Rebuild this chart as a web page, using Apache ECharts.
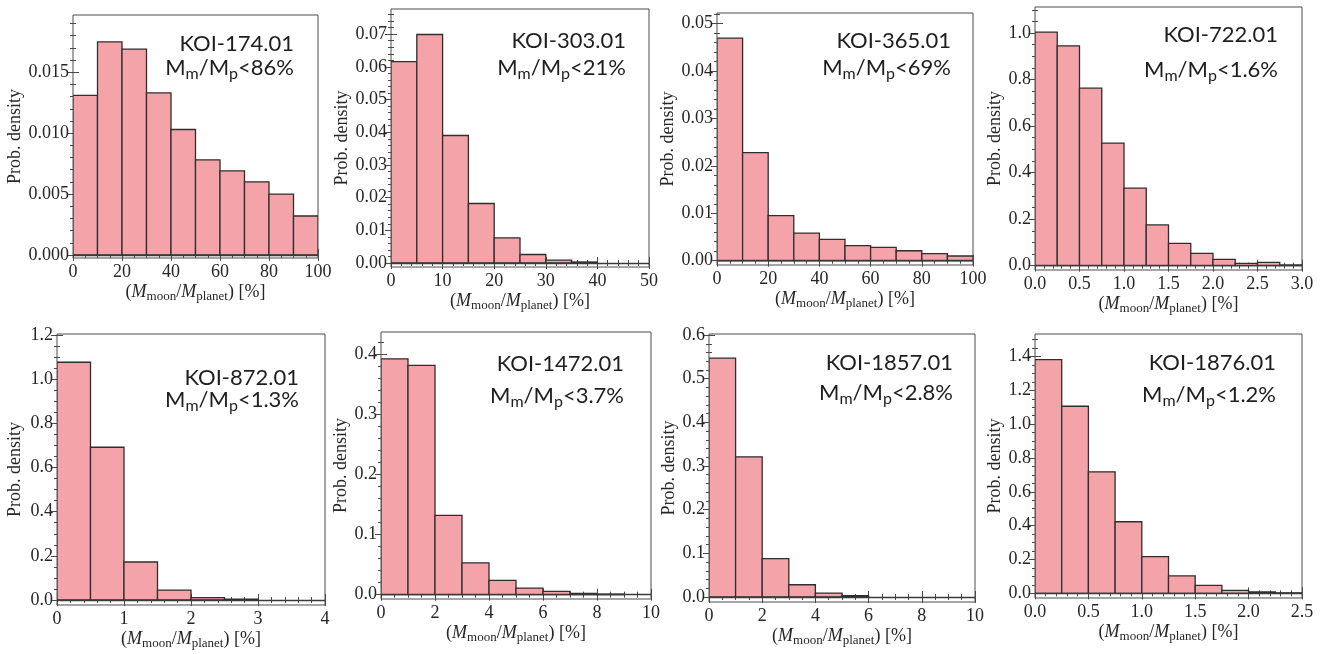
<!DOCTYPE html>
<html><head><meta charset="utf-8">
<script src="https://cdn.jsdelivr.net/npm/echarts@6/dist/echarts.min.js"></script>
<style>html,body{margin:0;padding:0;background:#fff}#c{width:1330px;height:654px}</style>
</head><body><div id="c"></div>
<script>
// ---------------- DATA ----------------
const names = ['KOI-174.01','KOI-303.01','KOI-365.01','KOI-722.01','KOI-872.01','KOI-1472.01','KOI-1857.01','KOI-1876.01'];
const limits = ['86%','21%','69%','1.6%','1.3%','3.7%','2.8%','1.2%'];
const binWidths = [10, 5, 10, 0.25, 0.5, 1, 1, 0.25];

const dens174  = [0.0131, 0.0175, 0.0169, 0.0133, 0.0103, 0.0078, 0.0069, 0.0060, 0.0050, 0.0032];
const dens303  = [0.0616, 0.0699, 0.0390, 0.0182, 0.0077, 0.0026, 0.0009, 0.0003];
const dens365  = [0.0469, 0.0228, 0.0095, 0.0058, 0.0045, 0.0032, 0.0028, 0.0021, 0.0015, 0.0010];
const dens722  = [1.004, 0.945, 0.763, 0.527, 0.333, 0.175, 0.096, 0.053, 0.027, 0.010, 0.014, 0.003];
const dens872  = [1.077, 0.692, 0.172, 0.045, 0.011, 0.004];
const dens1472 = [0.393, 0.382, 0.132, 0.053, 0.024, 0.011, 0.0055, 0.0022, 0.001];
const dens1857 = [0.547, 0.321, 0.088, 0.028, 0.009, 0.003];
const dens1876 = [1.382, 1.106, 0.718, 0.423, 0.217, 0.103, 0.047, 0.018, 0.008, 0.003];

const xTicks174  = ['0','20','40','60','80','100'];
const xTicks303  = ['0','10','20','30','40','50'];
const xTicks365  = ['0','20','40','60','80','100'];
const xTicks722  = ['0.0','0.5','1.0','1.5','2.0','2.5','3.0'];
const xTicks872  = ['0','1','2','3','4'];
const xTicks1472 = ['0','2','4','6','8','10'];
const xTicks1857 = ['0','2','4','6','8','10'];
const xTicks1876 = ['0.0','0.5','1.0','1.5','2.0','2.5'];

const yTicks174  = ['0.000','0.005','0.010','0.015'];
const yTicks303  = ['0.00','0.01','0.02','0.03','0.04','0.05','0.06','0.07'];
const yTicks365  = ['0.00','0.01','0.02','0.03','0.04','0.05'];
const yTicks722  = ['0.0','0.2','0.4','0.6','0.8','1.0'];
const yTicks872  = ['0.0','0.2','0.4','0.6','0.8','1.0','1.2'];
const yTicks1472 = ['0.0','0.1','0.2','0.3','0.4'];
const yTicks1857 = ['0.0','0.1','0.2','0.3','0.4','0.5','0.6'];
const yTicks1876 = ['0.0','0.2','0.4','0.6','0.8','1.0','1.2','1.4'];

const yAxisTitle = 'Prob. density';
const xAxisTitle = '({i|M}{s|moon}/{i|M}{s|planet}) [%]';

// ---------------- LAYOUT / STYLE ----------------
const panels = [
  {d:dens174,  xt:xTicks174,  yt:yTicks174,  xr:[0,100], yr:[-0.00025,0.0197], xs:4, ys:5, g:{left:73,  top:15,  width:245, height:243}, yGap:47, lab:{r:294,  t:36,  dy:24}},
  {d:dens303,  xt:xTicks303,  yt:yTicks303,  xr:[0,50],  yr:[-0.00123,0.0777], xs:5, ys:5, g:{left:391, top:9,   width:258, height:258}, yGap:40, lab:{r:626,  t:33,  dy:27}},
  {d:dens365,  xt:xTicks365,  yt:yTicks365,  xr:[0,100], yr:[-0.0009,0.0522],  xs:4, ys:5, g:{left:717, top:13,  width:256, height:252}, yGap:38, lab:{r:951,  t:33,  dy:27}},
  {d:dens722,  xt:xTicks722,  yt:yTicks722,  xr:[0,3],   yr:[-0.0187,1.112],   xs:5, ys:4, g:{left:1035,top:7,   width:267, height:263}, yGap:28, lab:{r:1278, t:27,  dy:35}},
  {d:dens872,  xt:xTicks872,  yt:yTicks872,  xr:[0,4],   yr:[-0.0227,1.205],   xs:5, ys:4, g:{left:57,  top:334, width:268, height:271}, yGap:33, lab:{r:299,  t:370, dy:22}},
  {d:dens1472, xt:xTicks1472, yt:yTicks1472, xr:[0,10],  yr:[-0.0072,0.4377],  xs:4, ys:5, g:{left:381, top:332, width:270, height:267}, yGap:30, lab:{r:624,  t:356, dy:32}},
  {d:dens1857, xt:xTicks1857, yt:yTicks1857, xr:[0,10],  yr:[-0.0115,0.6024],  xs:4, ys:5, g:{left:709, top:334, width:266, height:268}, yGap:28, lab:{r:953,  t:355, dy:30}},
  {d:dens1876, xt:xTicks1876, yt:yTicks1876, xr:[0,2.5], yr:[-0.0276,1.533],   xs:5, ys:4, g:{left:1035,top:334, width:267, height:264}, yGap:28, lab:{r:1276, t:355, dy:32}}
];

const SERIF = 'Liberation Serif';
const SANS = 'Lato';
const TXT = '#262626';
const TICK = '#4a4a4a';
const BAR_FILL = '#F4A4A9';
const BAR_EDGE = '#2e2e2e';

function minors(maj, n, range) {
  const step = (maj[1] - maj[0]) / n;
  const out = [];
  const start = maj[0] - Math.floor((maj[0] - range[0]) / step) * step;
  for (let v = start; v <= range[1] + 1e-12; v += step) {
    const isMaj = maj.some(m => Math.abs(m - v) < step * 1e-3);
    if (!isMaj && v >= range[0] - 1e-12) out.push(+v.toFixed(10));
  }
  return out;
}
function labelFor(list, v) {
  for (const s of list) { if (Math.abs(Number(s) - v) < 1e-9) return s; }
  return '';
}

const option = {animation:false, backgroundColor:'#ffffff', grid:[], xAxis:[], yAxis:[], series:[], graphic:[]};

panels.forEach((p, i) => {
  option.grid.push(Object.assign({show:true, borderColor:'#4d4d4d', borderWidth:1, backgroundColor:'transparent'}, p.g));
  const xMaj = p.xt.map(Number), yMaj = p.yt.map(Number);
  const xMin = minors(xMaj, p.xs, p.xr), yMin = minors(yMaj, p.ys, p.yr);
  const base = {type:'value', gridIndex:i, axisLine:{show:false}, splitLine:{show:false}};
  const tickAx = (pos, vals, len, extra) => Object.assign({}, base, {
    position:pos, axisTick:{show:true, inside:true, length:len, customValues:vals, lineStyle:{color:TICK, width:1}},
    axisLabel:{show:false}
  }, extra);

  const xi = option.xAxis.length;
  const xr = {min:p.xr[0], max:p.xr[1]};
  option.xAxis.push(Object.assign(tickAx('bottom', xMaj, 6, xr), {
    axisLabel:{show:true, customValues:xMaj, formatter:v => labelFor(p.xt, v), margin:5, fontFamily:SERIF, fontSize:18, color:TXT},
    name:xAxisTitle, nameLocation:'middle', nameGap:24,
    nameTextStyle:{fontFamily:SERIF, fontSize:18, color:TXT, lineHeight:21,
      rich:{i:{fontFamily:SERIF, fontStyle:'italic', fontSize:18, lineHeight:21, color:TXT},
            s:{fontFamily:SERIF, fontSize:13, lineHeight:11, verticalAlign:'bottom', color:TXT}}}
  }));
  option.xAxis.push(tickAx('top', xMaj, 6, xr));
  option.xAxis.push(tickAx('bottom', xMin, 3, xr));
  option.xAxis.push(tickAx('top', xMin, 3, xr));

  const yi = option.yAxis.length;
  const yr = {min:p.yr[0], max:p.yr[1]};
  option.yAxis.push(Object.assign(tickAx('left', yMaj, 6, yr), {
    axisLabel:{show:true, customValues:yMaj, formatter:v => labelFor(p.yt, v), margin:4, fontFamily:SERIF, fontSize:18, color:TXT},
    name:yAxisTitle, nameLocation:'middle', nameGap:p.yGap,
    nameTextStyle:{fontFamily:SERIF, fontSize:18, color:TXT}
  }));
  option.yAxis.push(tickAx('right', yMaj, 6, yr));
  option.yAxis.push(tickAx('left', yMin, 3, yr));
  option.yAxis.push(tickAx('right', yMin, 3, yr));

  const w = binWidths[i];
  option.series.push({
    type:'custom', xAxisIndex:xi, yAxisIndex:yi, silent:true, clip:true,
    data:p.d.map((v, k) => [k * w, (k + 1) * w, v]),
    encode:{x:[0,1], y:2},
    renderItem:(params, api) => {
      const a = api.coord([api.value(0), api.value(2)]);
      const b = api.coord([api.value(1), 0]);
      return {type:'rect', shape:{x:a[0], y:a[1], width:b[0]-a[0], height:b[1]-a[1]},
        style:{fill:BAR_FILL, stroke:BAR_EDGE, lineWidth:1.3}};
    },
    markLine:{silent:true, symbol:['none','none'], label:{show:false},
      lineStyle:{color:'#3a3a3a', width:1.4, type:'solid'}, data:[{yAxis:0}]}
  });

  option.graphic.push({type:'text', x:p.lab.r, y:p.lab.t - 6, z:100,
    style:{text:names[i], fontFamily:SANS, fontSize:22, fill:'#1e1e1e', align:'right', verticalAlign:'top', lineHeight:28}});
  option.graphic.push({type:'text', x:p.lab.r, y:p.lab.t - 6 + p.lab.dy, z:100,
    style:{text:'M{s|m}/M{s|p}<' + limits[i], fontFamily:SANS, fontSize:22, fill:'#1e1e1e', align:'right', verticalAlign:'top', lineHeight:28,
      rich:{s:{fontFamily:SANS, fontSize:16, lineHeight:17, verticalAlign:'bottom', fill:'#1e1e1e'}}}});
});

const chart = echarts.init(document.getElementById('c'), null, {renderer:'canvas', width:1330, height:654});
chart.setOption(option);
</script>
</body></html>
